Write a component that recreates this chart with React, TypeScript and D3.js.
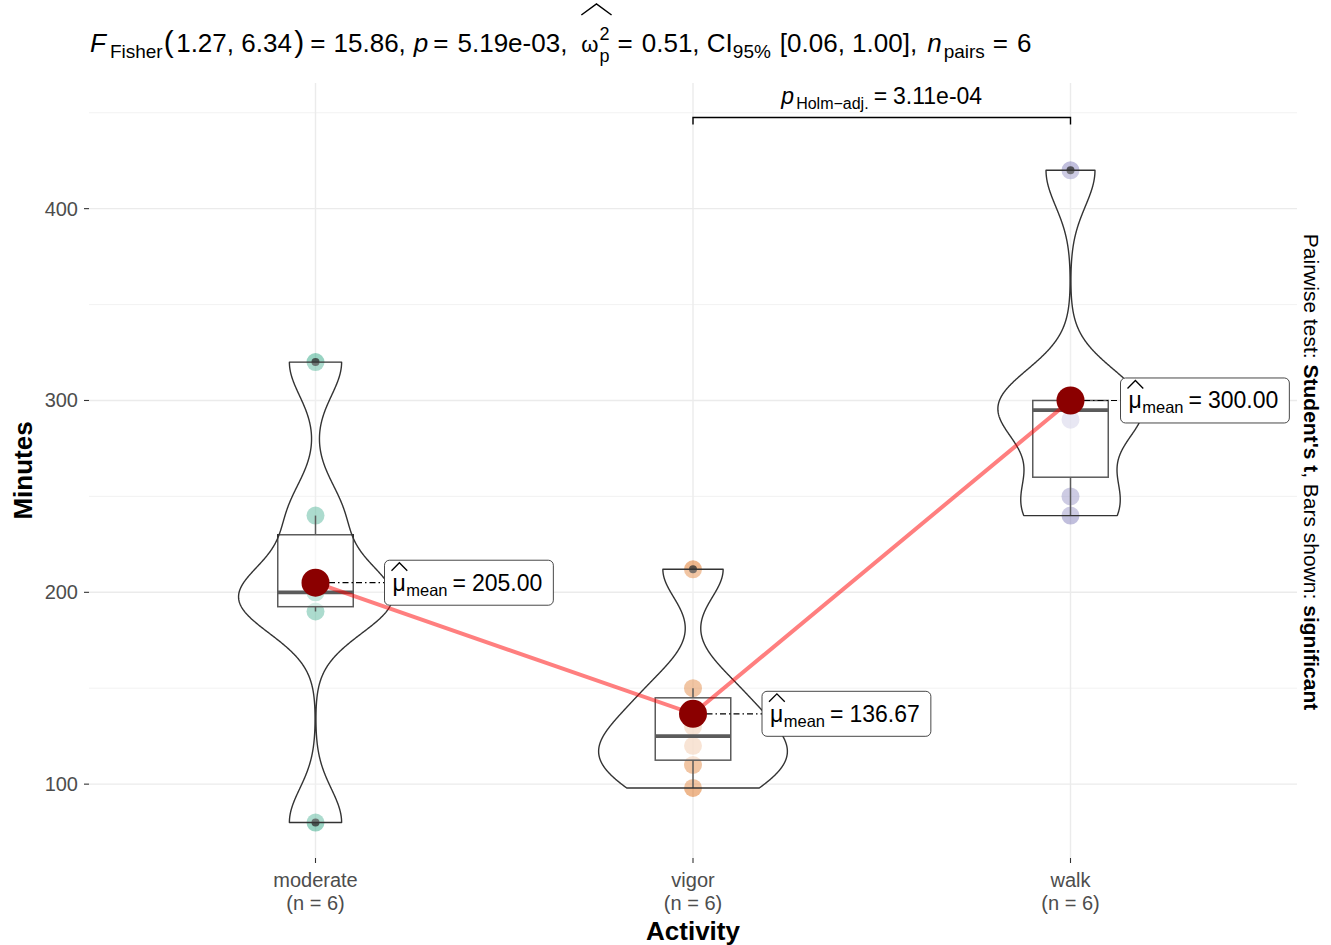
import React, { useEffect, useRef } from 'react';
import * as d3 from 'd3';

// ---------------- data ----------------
const categories = ['moderate', 'vigor', 'walk'];
const moderateMinutes = [80, 190, 200, 200, 240, 320];
const vigorMinutes = [98, 110, 120, 130, 150, 212];
const walkMinutes = [240, 250, 290, 300, 300, 420];
const groupValues = [moderateMinutes, vigorMinutes, walkMinutes];
const pointColors = ['#1B9E77', '#D95F02', '#7570B3'];
const yTicks = [100, 200, 300, 400];
const yMinorTicks = [150, 250, 350, 450];
const pairwiseGroup1 = ['vigor'];
const pairwiseGroup2 = ['walk'];
const pairwiseP = ['3.11e-04'];
const titleStats = { df1: '1.27', df2: '6.34', F: '15.86', p: '5.19e-03', omega: '0.51', ciLow: '0.06', ciHigh: '1.00', nPairs: '6' };

// ---------------- layout ----------------
const W = 1331;
const H = 945;
const PANEL = { left: 89, right: 1297, top: 83, bottom: 858 };
const Y_DOMAIN = [61.5, 465.5];
const BRACKET_LEVEL = 447.5;
const LABEL_DX = [69, 69, 50];
const FONT = '"Liberation Sans", Arial, Helvetica, sans-serif';

type Seg = { t: string; size: number; dy?: number; it?: boolean; b?: boolean; dx?: number; stack?: boolean; key?: string };

function drawRich(parent: any, segs: Seg[], x: number, y: number, anchor: string, fill: string) {
  const g = parent.append('g');
  let cx = 0;
  let lastStart = 0;
  const pos: Record<string, [number, number]> = {};
  segs.forEach((s) => {
    const startX = s.stack ? lastStart : cx + (s.dx || 0);
    const el = g
      .append('text')
      .attr('x', startX)
      .attr('y', s.dy || 0)
      .attr('font-size', s.size)
      .attr('font-family', FONT)
      .attr('font-style', s.it ? 'italic' : 'normal')
      .attr('font-weight', s.b ? 'bold' : 'normal')
      .attr('fill', fill)
      .style('white-space', 'pre')
      .text(s.t);
    const w = (el.node() as SVGTextElement).getComputedTextLength();
    if (s.key) pos[s.key] = [startX, startX + w];
    if (!s.stack) lastStart = startX;
    cx = Math.max(cx, startX + w);
  });
  const total = cx;
  const off = anchor === 'middle' ? -total / 2 : anchor === 'end' ? -total : 0;
  g.attr('transform', `translate(${x + off},${y})`);
  return { g, pos, total, off };
}

function kde(values: number[], bw: number, pts: number[]) {
  const n = values.length;
  const c = 1 / (n * bw * Math.sqrt(2 * Math.PI));
  return pts.map((p) => c * d3.sum(values, (v) => Math.exp(-0.5 * ((p - v) / bw) ** 2)));
}

export default function App() {
  const ref = useRef<SVGSVGElement>(null);

  useEffect(() => {
    const svg = d3.select(ref.current);
    svg.selectAll('*').remove();

    const x = d3.scalePoint<string>().domain(categories).range([PANEL.left, PANEL.right]).padding(0.6);
    const y = d3.scaleLinear().domain(Y_DOMAIN).range([PANEL.bottom, PANEL.top]);
    const step = x.step();

    // grid
    const grid = svg.append('g');
    yMinorTicks.forEach((t) => {
      grid.append('line').attr('x1', PANEL.left).attr('x2', PANEL.right).attr('y1', y(t)).attr('y2', y(t))
        .attr('stroke', '#EFEFEF').attr('stroke-width', 0.8);
    });
    yTicks.forEach((t) => {
      grid.append('line').attr('x1', PANEL.left).attr('x2', PANEL.right).attr('y1', y(t)).attr('y2', y(t))
        .attr('stroke', '#EBEBEB').attr('stroke-width', 1.4);
    });
    categories.forEach((c) => {
      grid.append('line').attr('x1', x(c)!).attr('x2', x(c)!).attr('y1', PANEL.top).attr('y2', PANEL.bottom)
        .attr('stroke', '#EBEBEB').attr('stroke-width', 1.4);
    });

    // axes
    const axes = svg.append('g');
    yTicks.forEach((t) => {
      axes.append('line').attr('x1', PANEL.left - 5).attr('x2', PANEL.left).attr('y1', y(t)).attr('y2', y(t))
        .attr('stroke', '#333').attr('stroke-width', 1.1);
      axes.append('text').attr('x', PANEL.left - 11).attr('y', y(t)).attr('dy', '0.35em')
        .attr('text-anchor', 'end').attr('font-family', FONT).attr('font-size', 20).attr('fill', '#4D4D4D').text(String(t));
    });
    categories.forEach((c) => {
      axes.append('line').attr('x1', x(c)!).attr('x2', x(c)!).attr('y1', PANEL.bottom).attr('y2', PANEL.bottom + 5)
        .attr('stroke', '#333').attr('stroke-width', 1.1);
      axes.append('text').attr('x', x(c)!).attr('y', 887).attr('text-anchor', 'middle')
        .attr('font-family', FONT).attr('font-size', 20).attr('fill', '#4D4D4D').text(c);
      const gi = categories.indexOf(c);
      axes.append('text').attr('x', x(c)!).attr('y', 910).attr('text-anchor', 'middle')
        .attr('font-family', FONT).attr('font-size', 20).attr('fill', '#4D4D4D').text(`(n = ${groupValues[gi].length})`);
    });
    axes.append('text').attr('x', (PANEL.left + PANEL.right) / 2).attr('y', 940).attr('text-anchor', 'middle')
      .attr('font-family', FONT).attr('font-size', 26).attr('font-weight', 'bold').text('Activity');
    axes.append('text').attr('transform', `translate(32,${(PANEL.top + PANEL.bottom) / 2}) rotate(-90)`)
      .attr('text-anchor', 'middle').attr('font-family', FONT).attr('font-size', 26).attr('font-weight', 'bold').text('Minutes');

    // stats per group
    const stats = groupValues.map((vals) => {
      const s = vals.slice().sort(d3.ascending);
      const q1 = d3.quantile(s, 0.25)!;
      const med = d3.quantile(s, 0.5)!;
      const q3 = d3.quantile(s, 0.75)!;
      const iqr = q3 - q1;
      const lo = q1 - 1.5 * iqr;
      const hi = q3 + 1.5 * iqr;
      const inside = s.filter((v) => v >= lo && v <= hi);
      const outliers = s.filter((v) => v < lo || v > hi);
      const sd = d3.deviation(s)!;
      const bw = 0.9 * Math.min(sd, iqr / 1.34) * Math.pow(s.length, -0.2);
      const grid = d3.range(512).map((i) => s[0] + (i / 511) * (s[s.length - 1] - s[0]));
      const dens = kde(s, bw, grid);
      return { s, q1, med, q3, wLo: d3.min(inside)!, wHi: d3.max(inside)!, outliers, grid, dens, mean: d3.mean(s)! };
    });
    const maxD = d3.max(stats, (st) => d3.max(st.dens)!)!;

    const marks = svg.append('g');
    // points
    stats.forEach((st, gi) => {
      const cx = x(categories[gi])!;
      st.s.forEach((v) => {
        marks.append('circle').attr('cx', cx).attr('cy', y(v)).attr('r', 9)
          .attr('fill', pointColors[gi]).attr('fill-opacity', 0.45);
      });
    });
    // boxplots
    stats.forEach((st, gi) => {
      const cx = x(categories[gi])!;
      const hw = 0.1 * step;
      marks.append('line').attr('x1', cx).attr('x2', cx).attr('y1', y(st.q3)).attr('y2', y(st.wHi))
        .attr('stroke', '#333').attr('stroke-width', 1.5);
      marks.append('line').attr('x1', cx).attr('x2', cx).attr('y1', y(st.q1)).attr('y2', y(st.wLo))
        .attr('stroke', '#333').attr('stroke-width', 1.5);
      marks.append('rect').attr('x', cx - hw).attr('y', y(st.q3)).attr('width', 2 * hw).attr('height', y(st.q1) - y(st.q3))
        .attr('fill', '#fff').attr('fill-opacity', 0.55).attr('stroke', '#333').attr('stroke-width', 1.5);
      marks.append('line').attr('x1', cx - hw).attr('x2', cx + hw).attr('y1', y(st.med)).attr('y2', y(st.med))
        .attr('stroke', '#333').attr('stroke-width', 3.8);
      st.outliers.forEach((v) => {
        marks.append('circle').attr('cx', cx).attr('cy', y(v)).attr('r', 4).attr('fill', '#333').attr('fill-opacity', 0.8);
      });
    });
    // violins
    stats.forEach((st, gi) => {
      const cx = x(categories[gi])!;
      const half = (d: number) => (d / maxD) * 0.25 * step;
      const right = st.grid.map((v, i) => [cx + half(st.dens[i]), y(v)] as [number, number]);
      const left = st.grid.map((v, i) => [cx - half(st.dens[i]), y(v)] as [number, number]).reverse();
      const path = d3.line()([...right, ...left]) + 'Z';
      marks.append('path').attr('d', path).attr('fill', '#fff').attr('fill-opacity', 0.2)
        .attr('stroke', '#333').attr('stroke-width', 1.4).attr('stroke-linejoin', 'round');
    });

    // centrality path
    const meanPts = stats.map((st, gi) => [x(categories[gi])!, y(st.mean)] as [number, number]);
    marks.append('path').attr('d', d3.line()(meanPts)!).attr('fill', 'none')
      .attr('stroke', 'red').attr('stroke-opacity', 0.5).attr('stroke-width', 4);

    // label connectors
    stats.forEach((st, gi) => {
      const [mx, my] = meanPts[gi];
      const lx = mx + LABEL_DX[gi];
      marks.append('line').attr('x1', mx).attr('x2', lx).attr('y1', my).attr('y2', my)
        .attr('stroke', '#000').attr('stroke-width', 1.2).attr('stroke-dasharray', '6,3,1.5,3');
    });
    // mean points
    stats.forEach((st, gi) => {
      const [mx, my] = meanPts[gi];
      marks.append('circle').attr('cx', mx).attr('cy', my).attr('r', 14).attr('fill', '#8B0000');
    });
    // mean labels
    stats.forEach((st, gi) => {
      const [mx, my] = meanPts[gi];
      const lx = mx + LABEL_DX[gi];
      const lg = marks.append('g');
      const rect = lg.append('rect');
      const r = drawRich(lg, [
        { t: 'μ', size: 23, key: 'mu' },
        { t: 'mean', size: 16.5, dy: 5, dx: 0.5 },
        { t: '=', size: 23, dx: 5 },
        { t: st.mean.toFixed(2), size: 23, dx: 6 },
      ], lx + 8, my + 8, 'start', '#000');
      const mu = r.pos['mu'];
      const hx0 = lx + 8 + mu[0] - 1;
      const hx1 = lx + 8 + mu[1] + 1.5;
      lg.append('path').attr('d', `M${hx0},${my - 12}L${(hx0 + hx1) / 2},${my - 20}L${hx1},${my - 12}`)
        .attr('fill', 'none').attr('stroke', '#000').attr('stroke-width', 1.3);
      rect.attr('x', lx).attr('y', my - 22.5).attr('width', r.total + 19).attr('height', 45).attr('rx', 5)
        .attr('fill', '#fff').attr('stroke', '#333').attr('stroke-width', 0.9);
    });

    // pairwise bracket
    pairwiseGroup1.forEach((g1, i) => {
      const x1 = x(g1)!;
      const x2 = x(pairwiseGroup2[i])!;
      const by = y(BRACKET_LEVEL);
      svg.append('path').attr('d', `M${x1},${by + 7}L${x1},${by}L${x2},${by}L${x2},${by + 7}`)
        .attr('fill', 'none').attr('stroke', '#000').attr('stroke-width', 1.4);
      drawRich(svg, [
        { t: 'p', size: 23, it: true },
        { t: 'Holm−adj.', size: 16, dy: 5, dx: 2 },
        { t: '=', size: 23, dx: 5 },
        { t: pairwiseP[i], size: 23, dx: 6 },
      ], (x1 + x2) / 2, by - 14, 'middle', '#000');
    });

    // title
    const tr = drawRich(svg, [
      { t: 'F', size: 26, it: true },
      { t: 'Fisher', size: 19, dy: 6, dx: 4 },
      { t: '(', size: 30, dx: 1 },
      { t: `${titleStats.df1}, ${titleStats.df2}`, size: 26, dx: 2.5 },
      { t: ')', size: 30, dx: 2.5 },
      { t: '=', size: 26, dx: 6 },
      { t: `${titleStats.F},`, size: 26, dx: 8 },
      { t: 'p', size: 26, it: true, dx: 8 },
      { t: '=', size: 26, dx: 5 },
      { t: `${titleStats.p},`, size: 26, dx: 9 },
      { t: 'ω', size: 22, key: 'omega', dx: 14 },
      { t: '2', size: 18, dy: -12, dx: 1 },
      { t: 'p', size: 18, dy: 10, stack: true, key: 'scr' },
      { t: '=', size: 26, dx: 8 },
      { t: `${titleStats.omega}, CI`, size: 26, dx: 9 },
      { t: '95%', size: 19, dy: 6 },
      { t: `[${titleStats.ciLow}, ${titleStats.ciHigh}],`, size: 26, dx: 9 },
      { t: 'n', size: 26, it: true, dx: 10 },
      { t: 'pairs', size: 19, dy: 6, dx: 2 },
      { t: '=', size: 26, dx: 8 },
      { t: titleStats.nPairs, size: 26, dx: 9 },
    ], 90, 52, 'start', '#000');
    const om = tr.pos['omega'];
    const sc = tr.pos['scr'];
    const hx0 = 90 + om[0];
    const hx1 = 90 + sc[1] + 2;
    svg.append('path').attr('d', `M${hx0},${15}L${(hx0 + hx1) / 2},${4}L${hx1},${15}`)
      .attr('fill', 'none').attr('stroke', '#000').attr('stroke-width', 1.5);

    // caption on the right
    const cap = drawRich(svg, [
      { t: 'Pairwise test: ', size: 21 },
      { t: "Student's t", size: 21, b: true },
      { t: ', Bars shown: ', size: 21 },
      { t: 'significant', size: 21, b: true },
    ], 0, 0, 'start', '#000');
    cap.g.attr('transform', `translate(1304,472) rotate(90) translate(${-cap.total / 2},0)`);
  }, []);

  return (
    <svg ref={ref} width={W} height={H} style={{ position: 'absolute', left: 0, top: 0, background: '#fff' }} />
  );
}
